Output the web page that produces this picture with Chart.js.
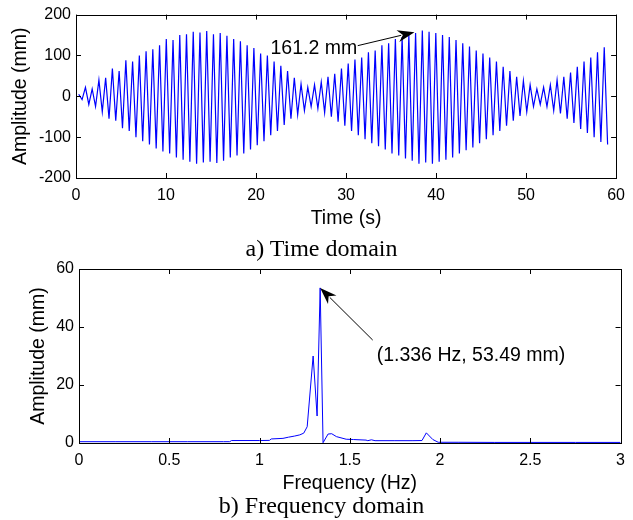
<!DOCTYPE html>
<html lang="en">
<head>
<meta charset="UTF-8">
<title>Time domain / Frequency domain</title>
<script src="https://cdn.jsdelivr.net/npm/chart.js@4.4.0/dist/chart.umd.min.js"></script>
<style>
  body { margin: 0; background: #fff; }
  #wrap { position: relative; width: 633px; height: 520px; }
  .box { position: absolute; left: 0; }
  .caption {
    position: absolute; left: 0; width: 643px; text-align: center;
    font-family: "Liberation Serif", "Times New Roman", serif;
    font-size: 24px; line-height: 24px; color: #000;
  }
</style>
</head>
<body>
<div id="wrap">
  <div class="box" style="top:0"><canvas id="timeChart" width="633" height="230"></canvas></div>
  <div class="box" style="top:230px"><canvas id="freqChart" width="633" height="265"></canvas></div>
  <div class="caption" style="top:236px">a) Time domain</div>
  <div class="caption" style="top:493px">b) Frequency domain</div>
</div>
<script>
// ---- time domain: one peak and one trough per cycle (mm)
var firstPeakTime = 0.3;      // s
var cyclePeriod = 0.7485;     // s  (1 / 1.336 Hz)
var peakValues = [
  5, 22, 18, 40, 45, 68, 62, 88, 85, 100,
  110, 115, 125, 140, 138, 150, 152, 158, 156, 160,
  152, 155, 148, 140, 135, 125, 118, 105, 100, 85,
  75, 62, 45, 30, 22, 28, 35, 48, 55, 68,
  80, 90, 95, 108, 112, 125, 130, 140, 145, 150,
  155, 161.2, 158, 155, 150, 145, 138, 130, 122, 112,
  105, 95, 85, 72, 62, 48, 38, 28, 18, 22,
  28, 40, 48, 58, 72, 85, 95, 108, 120
];
var troughValues = [
  -8, -20, -25, -38, -55, -60, -78, -85, -100, -110,
  -118, -128, -135, -140, -150, -155, -160, -165, -162, -160,
  -163, -158, -150, -145, -140, -130, -120, -110, -95, -85,
  -70, -55, -45, -35, -25, -30, -40, -50, -62, -72,
  -85, -95, -105, -115, -122, -130, -140, -145, -152, -158,
  -165, -162, -165, -160, -155, -150, -140, -132, -125, -115,
  -105, -95, -85, -72, -60, -48, -38, -25, -20, -25,
  -35, -42, -55, -65, -80, -90, -100, -112, -118
];

// ---- frequency domain (Hz, mm)
var freqs = [0, 0.2, 0.4, 0.6, 0.8, 0.835, 0.845, 1.0, 1.055, 1.065,
  1.13, 1.16, 1.195, 1.223, 1.245, 1.264, 1.297, 1.319, 1.336, 1.352,
  1.38, 1.4, 1.426, 1.48, 1.52, 1.59, 1.6, 1.62, 1.64, 1.75,
  1.85, 1.9, 1.924, 1.96, 1.99, 2.1, 2.3, 2.5, 2.75, 3.0];
var amps = [0.45, 0.45, 0.45, 0.45, 0.45, 0.45, 0.85, 0.85, 0.9, 1.4,
  1.6, 2.0, 2.4, 2.8, 3.4, 5.6, 30.0, 9.3, 53.49, 0.1,
  3.1, 3.2, 2.2, 1.3, 1.2, 1.0, 0.8, 1.1, 0.8, 0.8,
  0.8, 0.85, 3.5, 1.2, 0.25, 0.25, 0.2, 0.2, 0.2, 0.2];

var timeTicks = [0, 10, 20, 30, 40, 50, 60];
var ampTicks = [-200, -100, 0, 100, 200];
var freqTicks = [0, 0.5, 1, 1.5, 2, 2.5, 3];
var specTicks = [0, 20, 40, 60];

var SANS = '"Liberation Sans", Arial, sans-serif';

var timePoints = [];
peakValues.forEach(function (v, k) {
  var t = firstPeakTime + k * cyclePeriod;
  timePoints.push({ x: t, y: v });
  timePoints.push({ x: t + cyclePeriod / 2, y: troughValues[k] });
});
var freqPoints = freqs.map(function (f, i) { return { x: f, y: amps[i] }; });

function drawArrow(ctx, x1, y1, x2, y2, len, half) {
  var a = Math.atan2(y2 - y1, x2 - x1);
  ctx.beginPath();
  ctx.moveTo(x1, y1);
  ctx.lineTo(x2 - Math.cos(a) * len * 0.8, y2 - Math.sin(a) * len * 0.8);
  ctx.stroke();
  ctx.beginPath();
  ctx.moveTo(x2, y2);
  ctx.lineTo(x2 - Math.cos(a) * len - Math.sin(a) * half, y2 - Math.sin(a) * len + Math.cos(a) * half);
  ctx.lineTo(x2 - Math.cos(a) * len * 0.7, y2 - Math.sin(a) * len * 0.7);
  ctx.lineTo(x2 - Math.cos(a) * len + Math.sin(a) * half, y2 - Math.sin(a) * len - Math.cos(a) * half);
  ctx.closePath();
  ctx.fill();
}

// box round the plot, inward tick marks on all four sides, and the arrow note
var matlabFrame = {
  id: 'matlabFrame',
  afterDraw: function (chart, args, opts) {
    var ctx = chart.ctx, a = chart.chartArea;
    var x = chart.scales.x, y = chart.scales.y;
    ctx.save();
    ctx.strokeStyle = '#000';
    ctx.lineWidth = 1;
    ctx.strokeRect(Math.round(a.left) + 0.5, Math.round(a.top) + 0.5,
      Math.round(a.width), Math.round(a.height));
    ctx.beginPath();
    x.ticks.forEach(function (t) {
      var px = Math.round(x.getPixelForValue(t.value)) + 0.5;
      ctx.moveTo(px, a.bottom); ctx.lineTo(px, a.bottom - 5);
      ctx.moveTo(px, a.top); ctx.lineTo(px, a.top + 5);
    });
    y.ticks.forEach(function (t) {
      var py = Math.round(y.getPixelForValue(t.value)) + 0.5;
      ctx.moveTo(a.left, py); ctx.lineTo(a.left + 5, py);
      ctx.moveTo(a.right, py); ctx.lineTo(a.right - 5, py);
    });
    ctx.stroke();

    var n = opts.note;
    if (n) {
      ctx.fillStyle = '#000';
      ctx.lineWidth = 1;
      drawArrow(ctx, x.getPixelForValue(n.from[0]), y.getPixelForValue(n.from[1]),
        x.getPixelForValue(n.to[0]), y.getPixelForValue(n.to[1]), 17, 6);
      ctx.font = '19.5px ' + SANS;
      ctx.textAlign = 'left';
      ctx.textBaseline = 'middle';
      ctx.fillText(n.text, x.getPixelForValue(n.at[0]), y.getPixelForValue(n.at[1]));
    }
    ctx.restore();
  }
};

function axisX(min, max, vals, title, fmt) {
  return {
    type: 'linear', min: min, max: max,
    grid: { display: false, drawTicks: false },
    border: { display: false },
    afterBuildTicks: function (s) { s.ticks = vals.map(function (v) { return { value: v }; }); },
    afterFit: function (s) { s.height = 52; },
    ticks: { color: '#000', font: { family: SANS, size: 16 }, padding: 8, maxRotation: 0,
      callback: function (v) { return fmt ? fmt(v) : v; } },
    title: { display: true, text: title, color: '#000', font: { family: SANS, size: 19.5 },
      padding: { top: 0, bottom: 0 } }
  };
}
function axisY(min, max, vals, width, titlePad) {
  return {
    min: min, max: max,
    grid: { display: false, drawTicks: false },
    border: { display: false },
    afterBuildTicks: function (s) { s.ticks = vals.map(function (v) { return { value: v }; }); },
    afterFit: function (s) { s.width = width; },
    ticks: { color: '#000', font: { family: SANS, size: 16 }, padding: 5 },
    title: { display: true, text: 'Amplitude (mm)', color: '#000', font: { family: SANS, size: 19.5 },
      padding: { top: titlePad, bottom: 0 } }
  };
}

new Chart(document.getElementById('timeChart'), {
  type: 'line',
  data: { datasets: [{ data: timePoints, borderColor: '#0000ff', borderWidth: 1.2,
    pointRadius: 0, tension: 0, fill: false }] },
  options: {
    responsive: false, animation: false,
    layout: { padding: { left: 0, right: 7, top: 14, bottom: 0 } },
    plugins: { legend: { display: false }, tooltip: { enabled: false },
      matlabFrame: { note: { text: '161.2 mm', at: [21.6, 116], from: [31.3, 124], to: [37.6, 157] } } },
    scales: {
      x: axisX(0, 60, timeTicks, 'Time (s)'),
      y: axisY(-200, 200, ampTicks, 76, 9)
    }
  },
  plugins: [matlabFrame]
});

new Chart(document.getElementById('freqChart'), {
  type: 'line',
  data: { datasets: [{ data: freqPoints, borderColor: '#0000ff', borderWidth: 1,
    pointRadius: 0, tension: 0, fill: false }] },
  options: {
    responsive: false, animation: false,
    layout: { padding: { left: 0, right: 12, top: 39, bottom: 0 } },
    plugins: { legend: { display: false }, tooltip: { enabled: false },
      matlabFrame: { note: { text: '(1.336 Hz, 53.49 mm)', at: [1.649, 30.3], from: [1.627, 35.5], to: [1.336, 53.49] } } },
    scales: {
      x: axisX(0, 3, freqTicks, 'Frequency (Hz)', function (v) { return String(v); }),
      y: axisY(0, 60, specTicks, 79, 27)
    }
  },
  plugins: [matlabFrame]
});
</script>
</body>
</html>
